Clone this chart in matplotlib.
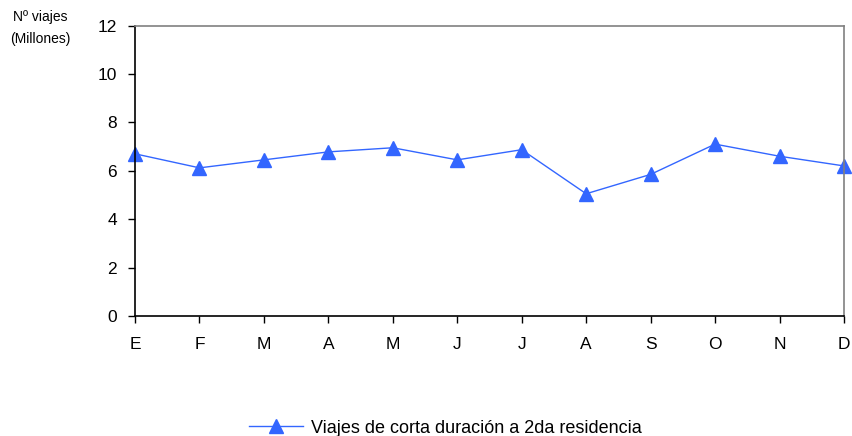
import matplotlib.pyplot as plt

plt.rcParams['font.family'] = ['Liberation Sans', 'DejaVu Sans']

# Meses y viajes (millones)
MESES = ['E', 'F', 'M', 'A', 'M', 'J', 'J', 'A', 'S', 'O', 'N', 'D']
VIAJES = [6.70, 6.12, 6.45, 6.78, 6.95, 6.45, 6.87, 5.05, 5.85, 7.10, 6.60, 6.20]
Y_TICKS = [0, 2, 4, 6, 8, 10, 12]

fig = plt.figure(figsize=(8.53, 4.36), dpi=100)
ax = fig.add_axes([0.1583, 0.2752, 0.8311, 0.6663])

x = list(range(len(MESES)))
ax.plot(x, VIAJES, color='#3366FF', linewidth=1, marker='^', markersize=10,
        markerfacecolor='#3366FF', markeredgecolor='#3366FF',
        label='Viajes de corta duración a 2da residencia', clip_on=False)

ax.set_xlim(0, 11)
ax.set_ylim(0, 12)
ax.set_xticks(x)
ax.set_xticklabels(MESES)
ax.set_yticks(Y_TICKS)
ax.tick_params(axis='both', labelsize=12.5, length=5, width=1, direction='out', color='black')
ax.tick_params(axis='x', pad=10)
ax.tick_params(axis='y', pad=8)

# Bordes
ax.spines['left'].set_color('black')
ax.spines['bottom'].set_color('black')
ax.spines['top'].set_color('#808080')
ax.spines['right'].set_color('#808080')
for s in ax.spines.values():
    s.set_linewidth(1.2)

fig.text(0.047, 0.961, 'Nº viajes', ha='center', va='center', fontsize=10)
fig.text(0.047, 0.911, '(Millones)', ha='center', va='center', fontsize=10)

fig.legend(loc='center', bbox_to_anchor=(0.522, 0.018), frameon=False, fontsize=13,
           handlelength=3.0, handletextpad=0.4)

fig.savefig('out.png', dpi=100)
